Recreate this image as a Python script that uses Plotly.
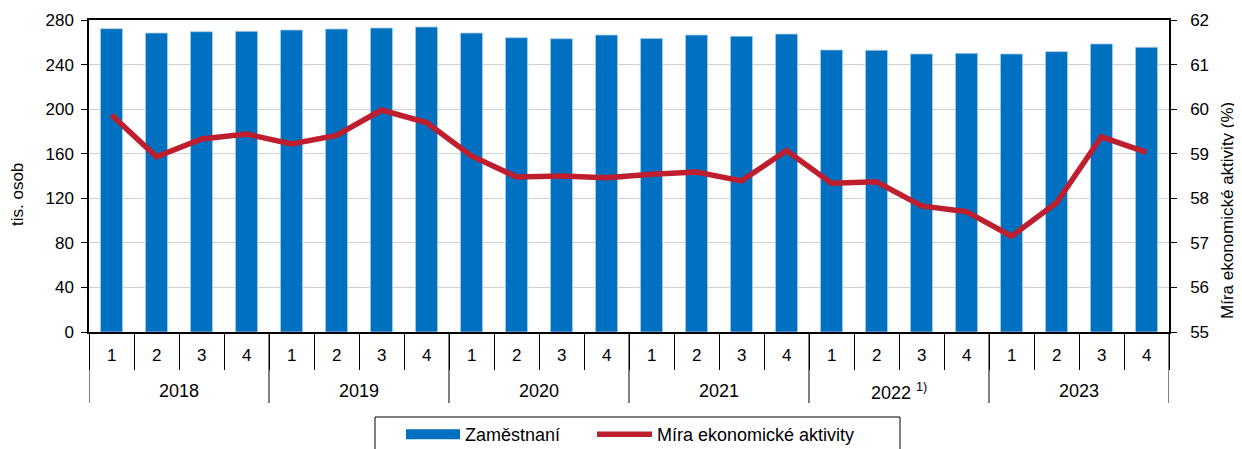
import plotly.graph_objects as go

years = ["2018", "2019", "2020", "2021", "2022 <sup>1)</sup>", "2023"]
quarters = ["1", "2", "3", "4"]
employed = [272.2, 268.3, 269.5, 269.8, 271.0, 271.9, 272.8, 273.7,
            268.3, 264.1, 263.2, 266.5, 263.5, 266.5, 265.4, 267.4,
            253.1, 252.8, 249.5, 250.1, 249.5, 251.6, 258.5, 255.5]
activity_rate = [59.87, 58.93, 59.33, 59.44, 59.22, 59.41, 59.98, 59.70,
                 58.95, 58.48, 58.50, 58.46, 58.54, 58.59, 58.39, 59.07,
                 58.34, 58.37, 57.83, 57.70, 57.15, 57.90, 59.38, 59.03]

FONT = "Liberation Sans, Arial, sans-serif"
BLUE = "#0070C0"
RED = "#BE1E2D"

W, H = 1242, 449
OFF = 8  # page body margin offset applied by the browser
# target plot box in page pixels
PL, PR, PT, PB = 89, 1169, 20, 332
PW, PH = PR - PL, PB - PT


def px_x(page_x):
    return (page_x - PL) / PW


def px_y(page_y):
    return (PB - page_y) / PH


n = len(employed)
nq = len(quarters)
pos = list(range(n))
quarter_labels = [quarters[i % nq] for i in range(n)]

fig = go.Figure()
fig.add_trace(go.Bar(
    x=pos, y=employed, name="Zaměstnaní", showlegend=False,
    marker=dict(color=BLUE, line=dict(color="#a9cbea", width=0.8)),
    yaxis="y",
))
# legend proxy for the bar series (wide rectangular swatch like the original)
fig.add_trace(go.Scatter(
    x=[None], y=[None], name="Zaměstnaní", mode="lines",
    line=dict(color=BLUE, width=12), yaxis="y", legend="legend",
))
fig.add_trace(go.Scatter(
    x=pos, y=activity_rate, name="Míra ekonomické aktivity",
    mode="lines", line=dict(color=RED, width=5.5), yaxis="y2", legend="legend2",
))

shapes = []
for k in range(len(years) + 1):
    xb = k * nq - 0.5
    shapes.append(dict(type="line", xref="x", yref="paper", x0=xb, x1=xb,
                       y0=0, y1=px_y(403), line=dict(color="black", width=1)))
# legend frame
shapes.append(dict(type="rect", xref="paper", yref="paper",
                   x0=px_x(375), x1=px_x(900), y0=px_y(417), y1=px_y(470),
                   line=dict(color="black", width=1), fillcolor="rgba(0,0,0,0)"))

annotations = []
for i in range(n):
    annotations.append(dict(x=i, y=px_y(355.5), xref="x", yref="paper", text=quarter_labels[i],
                            showarrow=False, yanchor="middle", xanchor="center",
                            font=dict(size=17)))
for k, yr in enumerate(years):
    annotations.append(dict(x=k * nq + (nq - 1) / 2, y=px_y(391), xref="x", yref="paper", text=yr,
                            showarrow=False, yanchor="middle", xanchor="center",
                            font=dict(size=18)))
annotations.append(dict(x=px_x(17.5), y=px_y(194.5), xref="paper", yref="paper", text="tis. osob",
                        showarrow=False, textangle=-90, xanchor="center", yanchor="middle",
                        font=dict(size=17)))
annotations.append(dict(x=px_x(1227), y=px_y(211), xref="paper", yref="paper",
                        text="Míra ekonomické aktivity (%)", showarrow=False, textangle=-90,
                        xanchor="center", yanchor="middle", font=dict(size=17)))

legend_common = dict(orientation="h", xanchor="left", yanchor="top", y=px_y(416),
                     borderwidth=0, bgcolor="rgba(0,0,0,0)", font=dict(size=18))

fig.update_layout(
    width=W, height=H,
    margin=dict(l=PL - OFF, r=W - (PR - OFF), t=PT - OFF, b=H - (PB - OFF), autoexpand=False),
    paper_bgcolor="white", plot_bgcolor="white",
    font=dict(family=FONT, size=17, color="black"),
    bargap=0.51,
    showlegend=True,
    legend=dict(x=px_x(401), itemwidth=54, **legend_common),
    legend2=dict(x=px_x(592), itemwidth=55, **legend_common),
    xaxis=dict(
        type="linear", range=[-0.5, n - 0.5], automargin=False,
        showline=True, linecolor="black", linewidth=1.5, mirror=True,
        ticks="outside", ticklen=36, tickcolor="black", tickwidth=1,
        tickmode="array", tickvals=[i - 0.5 for i in range(n + 1)],
        showticklabels=False, showgrid=False, zeroline=False, fixedrange=True,
    ),
    yaxis=dict(
        range=[0, 280], dtick=40, automargin=False,
        showline=True, linecolor="black", linewidth=1.5,
        ticks="outside", ticklen=6, tickcolor="black",
        showgrid=True, gridcolor="#d0d0d0", gridwidth=1, zeroline=False,
        ticklabelstandoff=4, tickfont=dict(size=17),
    ),
    yaxis2=dict(
        range=[55, 62], dtick=1, overlaying="y", side="right", automargin=False,
        showline=True, linecolor="black", linewidth=1.5,
        ticks="outside", ticklen=6, tickcolor="black", showgrid=False, zeroline=False,
        ticklabelstandoff=10, tickfont=dict(size=17),
    ),
    shapes=shapes,
    annotations=annotations,
)

fig.write_html("out.html")
